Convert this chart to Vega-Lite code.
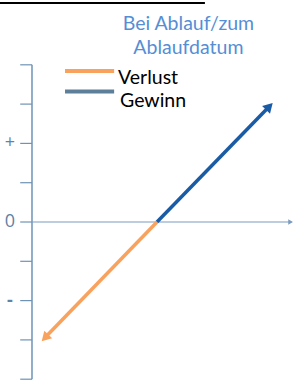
{
  "$schema": "https://vega.github.io/schema/vega-lite/v6.json",
  "width": 294,
  "height": 384,
  "autosize": {"type": "none"},
  "padding": 0,
  "background": "white",
  "config": {"view": {"stroke": null}},
  "encoding": {
    "x": {"type": "quantitative", "scale": {"domain": [-0.8142, 6.6667], "nice": false, "zero": false}, "axis": null},
    "y": {"type": "quantitative", "scale": {"domain": [-4.122, 5.649], "nice": false, "zero": false}, "axis": null}
  },
  "layer": [
    {
      "data": {"values": [{"x": -0.8142, "x2": 4.4, "y": 5.573}]},
      "mark": {"type": "rule", "color": "black", "strokeWidth": 2},
      "encoding": {"x": {"field": "x"}, "x2": {"field": "x2"}, "y": {"field": "y"}}
    },
    {
      "data": {"values": [{"x": 0, "y": -4, "y2": 4}]},
      "mark": {"type": "rule", "color": "#6f93b5", "strokeWidth": 1.5},
      "encoding": {"x": {"field": "x"}, "y": {"field": "y"}, "y2": {"field": "y2"}}
    },
    {
      "data": {"values": [{"v": -4}, {"v": -3}, {"v": -2}, {"v": -1}, {"v": 0}, {"v": 1}, {"v": 2}, {"v": 3}, {"v": 4}]},
      "mark": {"type": "rule", "color": "#6f93b5", "strokeWidth": 1.2},
      "encoding": {"x": {"datum": -0.3}, "x2": {"datum": 0}, "y": {"field": "v"}}
    },
    {
      "data": {"values": [{"label": "+", "v": 2}, {"label": "0", "v": 0}]},
      "mark": {"type": "text", "color": "#5f83a6", "fontSize": 18, "font": "Open Sans", "align": "center", "baseline": "middle"},
      "encoding": {"x": {"datum": -0.56}, "y": {"field": "v"}, "text": {"field": "label"}}
    },
    {
      "data": {"values": [{"label": "-", "v": -2}]},
      "mark": {"type": "text", "color": "#5f83a6", "fontSize": 18, "fontWeight": "bold", "font": "Open Sans", "align": "center", "baseline": "middle"},
      "encoding": {"x": {"datum": -0.56}, "y": {"field": "v"}, "text": {"field": "label"}}
    },
    {
      "data": {"values": [{"x": 0, "x2": 6.6, "y": 0}]},
      "mark": {"type": "rule", "color": "#7a9cc0", "strokeWidth": 1.2},
      "encoding": {"x": {"field": "x"}, "x2": {"field": "x2"}, "y": {"field": "y"}}
    },
    {
      "data": {"values": [{"x": 6.58, "y": 0}]},
      "mark": {"type": "point", "shape": "triangle-right", "filled": true, "color": "#7a9cc0", "size": 30, "opacity": 1},
      "encoding": {"x": {"field": "x"}, "y": {"field": "y"}}
    },
    {
      "data": {"values": [{"x": 3.18, "y": 0, "x2": 6.0, "y2": 2.9}]},
      "mark": {"type": "rule", "color": "#1a5ba6", "strokeWidth": 3.5},
      "encoding": {"x": {"field": "x"}, "y": {"field": "y"}, "x2": {"field": "x2"}, "y2": {"field": "y2"}}
    },
    {
      "data": {"values": [{"x": 6.04, "y": 2.94}]},
      "mark": {"type": "point", "shape": "triangle-up", "filled": true, "color": "#1a5ba6", "size": 120, "angle": 44, "opacity": 1},
      "encoding": {"x": {"field": "x"}, "y": {"field": "y"}}
    },
    {
      "data": {"values": [{"x": 3.18, "y": 0, "x2": 0.37, "y2": -2.9}]},
      "mark": {"type": "rule", "color": "#f9a25e", "strokeWidth": 3.5},
      "encoding": {"x": {"field": "x"}, "y": {"field": "y"}, "x2": {"field": "x2"}, "y2": {"field": "y2"}}
    },
    {
      "data": {"values": [{"x": 0.33, "y": -2.95}]},
      "mark": {"type": "point", "shape": "triangle-up", "filled": true, "color": "#f9a25e", "size": 120, "angle": 224, "opacity": 1},
      "encoding": {"x": {"field": "x"}, "y": {"field": "y"}}
    },
    {
      "data": {"values": [{"x": 0.84, "x2": 2.09, "y": 3.842}]},
      "mark": {"type": "rule", "color": "#f9a25e", "strokeWidth": 4},
      "encoding": {"x": {"field": "x"}, "x2": {"field": "x2"}, "y": {"field": "y"}}
    },
    {
      "data": {"values": [{"x": 0.84, "x2": 2.09, "y": 3.32}]},
      "mark": {"type": "rule", "color": "#5e7f9a", "strokeWidth": 4},
      "encoding": {"x": {"field": "x"}, "x2": {"field": "x2"}, "y": {"field": "y"}}
    },
    {
      "data": {"values": [{"label": "Verlust", "x": 2.19, "y": 3.664}, {"label": "Gewinn", "x": 2.24, "y": 3.079}]},
      "mark": {"type": "text", "color": "black", "fontSize": 19.5, "font": "Lato", "align": "left", "baseline": "middle"},
      "encoding": {"x": {"field": "x"}, "y": {"field": "y"}, "text": {"field": "label"}}
    },
    {
      "data": {"values": [{"label": "Bei Ablauf/zum", "x": 3.98, "y": 5.038}, {"label": "Ablaufdatum", "x": 3.98, "y": 4.427}]},
      "mark": {"type": "text", "color": "#558ed5", "fontSize": 19.5, "font": "Lato", "align": "center", "baseline": "middle"},
      "encoding": {"x": {"field": "x"}, "y": {"field": "y"}, "text": {"field": "label"}}
    }
  ]
}
